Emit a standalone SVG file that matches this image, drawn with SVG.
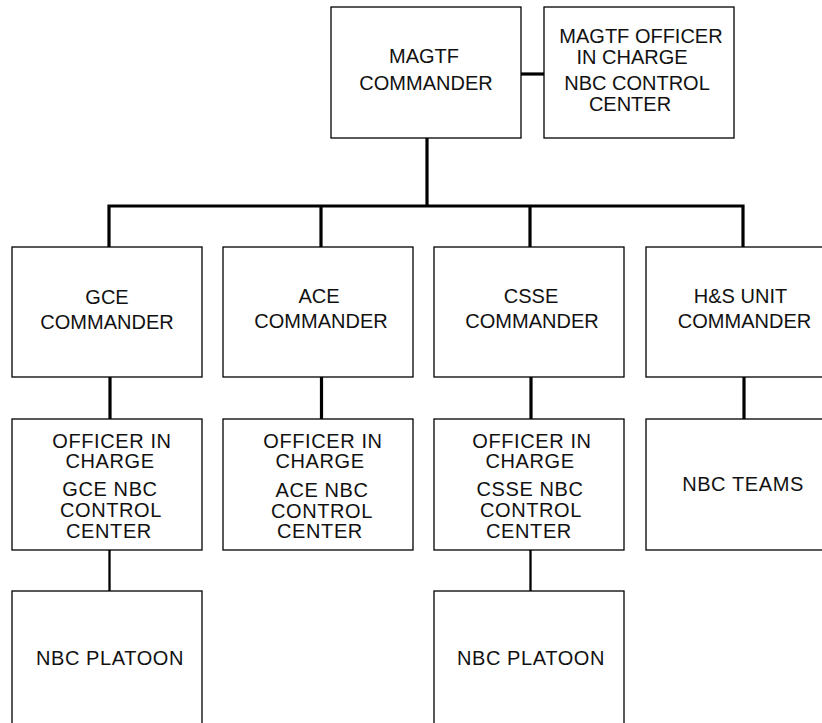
<svg xmlns="http://www.w3.org/2000/svg" width="822" height="723" viewBox="0 0 822 723">
<style>
.box{fill:#fff;stroke:#000;stroke-width:1.3}
.t{font-family:"Liberation Sans",Arial,sans-serif;font-size:20px;fill:#111;text-anchor:middle}
.w{letter-spacing:0.6px}
.c{stroke:#000;stroke-width:3.2;fill:none}
.c2{stroke:#000;stroke-width:2.3;fill:none}
</style>
<rect width="822" height="723" fill="#fff"/>
<g id="connectors">
<line class="c" x1="521" y1="74" x2="544" y2="74"/>
<line class="c" x1="427" y1="138" x2="427" y2="206"/>
<polyline class="c" points="109,247 109,206 743,206 743,247"/>
<line class="c" x1="321" y1="206" x2="321" y2="247"/>
<line class="c" x1="530" y1="206" x2="530" y2="247"/>
<line class="c" x1="110" y1="377" x2="110" y2="419"/>
<line class="c" x1="321.5" y1="377" x2="321.5" y2="419"/>
<line class="c" x1="531" y1="377" x2="531" y2="419"/>
<line class="c" x1="744" y1="377" x2="744" y2="419"/>
<line class="c2" x1="109.5" y1="550" x2="109.5" y2="591"/>
<line class="c2" x1="530.5" y1="550" x2="530.5" y2="591"/>
</g>
<g id="magtf-commander">
<rect class="box" x="331" y="7" width="190" height="131"/>
<text class="t" x="424" y="63">MAGTF</text>
<text class="t" x="426" y="90">COMMANDER</text>
</g>
<g id="magtf-oic">
<rect class="box" x="544" y="7" width="190" height="131"/>
<text class="t" x="641" y="43">MAGTF OFFICER</text>
<text class="t" x="632" y="64">IN CHARGE</text>
<text class="t" x="637" y="90">NBC CONTROL</text>
<text class="t" x="630" y="110.5">CENTER</text>
</g>
<g id="gce-commander">
<rect class="box" x="12" y="247" width="190" height="130"/>
<text class="t" x="107" y="304">GCE</text>
<text class="t" x="107" y="329">COMMANDER</text>
</g>
<g id="ace-commander">
<rect class="box" x="223" y="247" width="190" height="130"/>
<text class="t" x="319" y="302.5">ACE</text>
<text class="t" x="321" y="328">COMMANDER</text>
</g>
<g id="csse-commander">
<rect class="box" x="434" y="247" width="190" height="130"/>
<text class="t" x="531" y="302.5">CSSE</text>
<text class="t" x="532" y="328">COMMANDER</text>
</g>
<g id="hs-commander">
<rect class="box" x="646" y="247" width="190" height="130"/>
<text class="t" x="740.5" y="302.5">H&amp;S UNIT</text>
<text class="t" x="744.5" y="328">COMMANDER</text>
</g>
<g id="gce-oic">
<rect class="box" x="12" y="419" width="190" height="131"/>
<text class="t w" x="112" y="448">OFFICER IN</text>
<text class="t w" x="110" y="468">CHARGE</text>
<text class="t w" x="110" y="496">GCE NBC</text>
<text class="t w" x="111" y="517">CONTROL</text>
<text class="t w" x="109" y="538">CENTER</text>
</g>
<g id="ace-oic">
<rect class="box" x="223" y="419" width="190" height="131"/>
<text class="t w" x="323" y="448">OFFICER IN</text>
<text class="t w" x="320" y="468">CHARGE</text>
<text class="t w" x="322" y="497">ACE NBC</text>
<text class="t w" x="322" y="518">CONTROL</text>
<text class="t w" x="320" y="538">CENTER</text>
</g>
<g id="csse-oic">
<rect class="box" x="434" y="419" width="190" height="131"/>
<text class="t w" x="532" y="448">OFFICER IN</text>
<text class="t w" x="530" y="468">CHARGE</text>
<text class="t w" x="530" y="496">CSSE NBC</text>
<text class="t w" x="531" y="517">CONTROL</text>
<text class="t w" x="529" y="538">CENTER</text>
</g>
<g id="nbc-teams">
<rect class="box" x="646" y="419" width="190" height="131"/>
<text class="t w" x="743" y="491">NBC TEAMS</text>
</g>
<g id="gce-platoon">
<rect class="box" x="12" y="591" width="190" height="140"/>
<text class="t w" x="110" y="665">NBC PLATOON</text>
</g>
<g id="csse-platoon">
<rect class="box" x="434" y="591" width="190" height="140"/>
<text class="t w" x="531" y="665">NBC PLATOON</text>
</g>
</svg>
